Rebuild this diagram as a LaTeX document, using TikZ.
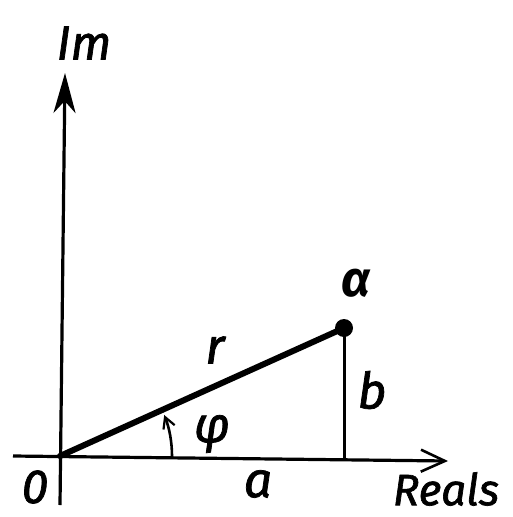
\documentclass[tikz,border=0pt]{standalone}
\usepackage{fontspec}
\setmainfont{Fira Sans}[ItalicFeatures={FakeBold=1.5}]
\usetikzlibrary{arrows.meta}
\begin{document}
\begin{tikzpicture}[x=1pt,y=-1pt,
  axis/.style={line width=3.2pt},
  lbl/.style={inner sep=0pt,font=\fontsize{48}{54}\selectfont\itshape},
  lblbig/.style={inner sep=0pt,font=\fontsize{50}{56}\selectfont\itshape}]
\useasboundingbox (0,0) rectangle (512,517);
\coordinate (O) at (60,456);
\coordinate (ytop) at (65,73);
\coordinate (ybot) at (60,505);
\coordinate (xl) at (13,456);
\coordinate (xr) at (448,461);
\coordinate (P) at (344,328);
\coordinate (Pf) at (344,460);
\draw[axis,-{Stealth[length=40pt,width=22pt,inset=12pt]}] (ybot) -- (ytop);
\draw[axis,-{Straight Barb[length=24pt,width=22pt,line width=2.6pt]}] (xl) -- (xr);
\draw[line width=6pt,line cap=round] (O) -- (P);
\draw[line width=3pt] (P) -- (Pf);
\fill (P) circle (9pt);
\draw[line width=2.6pt,-{Straight Barb[length=11pt,width=12pt,line width=2.2pt]}]
  ([shift={(112pt,0)}]O) arc[start angle=0,end angle=21.5,radius=112pt];
\node[lbl] (im) at (84,43) {Im};
\node[lbl,font=\fontsize{44}{50}\selectfont\itshape] (reals) at (446,489) {Reals};
\node[lbl] (zero) at (35,487) {0};
\node[lblbig] (a) at (258,484) {a};
\node[lblbig] (b) at (372,390) {b};
\node[lblbig] (r) at (215,350) {r};
\node[lblbig] (phi) at (212,434) {φ};
\node[lblbig] (alpha) at (356,283) {\bfseries α};
\end{tikzpicture}
\end{document}
